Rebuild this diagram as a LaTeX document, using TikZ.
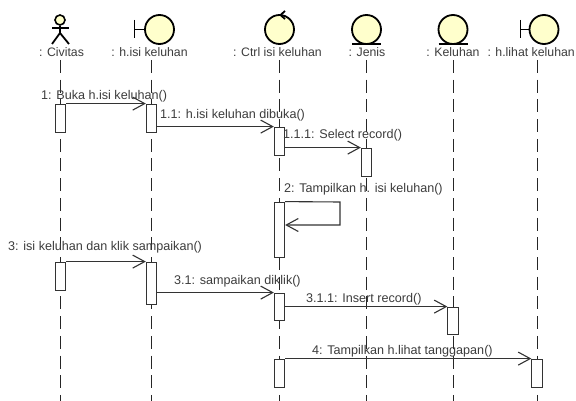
\documentclass[tikz,border=0pt]{standalone}
\usepackage{fontspec}
\setmainfont{Liberation Sans}
\usetikzlibrary{arrows.meta,positioning,calc}
\definecolor{iconfill}{RGB}{255,255,204}
\definecolor{txtgray}{RGB}{60,60,60}

\begin{document}
\begin{tikzpicture}[x=1pt,y=-1pt,>={Straight Barb[length=12pt,width=13pt]},
 obj/.style={circle,draw=black,line width=1.8pt,fill=iconfill,minimum size=29pt,inner sep=0pt},
 lbl/.style={text=txtgray,font=\fontsize{12.3}{14}\selectfont,inner sep=0pt},
 msgl/.style={lbl,font=\fontsize{12.6}{14}\selectfont,anchor=west},
 act/.style={draw=black!80,fill=white,line width=0.8pt,minimum width=10.5pt,inner sep=0pt},
 life/.style={black!85,line width=0.9pt,dash pattern=on 13pt off 6.7pt},
 a/.style={->,black!80,line width=1.1pt},
 ic/.style={line width=1.8pt}]
\useasboundingbox (0,0) rectangle (576,401);
% icons
\node[circle,draw=black,line width=1.6pt,fill=iconfill,minimum size=10pt,inner sep=0pt] (civ) at (60,20) {};
\coordinate (civb) at (60,33);
\draw[ic] (civ)--(civb); \draw[ic] (52,28)--(69,28);
\draw[ic] (52,44)--(civb)--(69,44);
\node[obj] (his) at (159.5,29.5) {};
\draw[ic] (134.5,20)--(134.5,38); \draw[ic] (134.5,29.5)--(his);
\node[obj] (ctrl) at (279.5,29.5) {};
\draw[ic] (285,11)--(280.5,15)--(285,19);
\node[obj] (jen) at (366.5,29.5) {};
\draw[ic] (352,44)--(381,44);
\node[obj] (kel) at (453,29.5) {};
\draw[ic] (438.5,44)--(467.5,44);
\node[obj] (hli) at (544,29.5) {};
\draw[ic] (520.5,20)--(520.5,38); \draw[ic] (520.5,29.5)--(hli);
% names
\node[lbl] (lciv) at (61.5,52) {: Civitas};
\node[lbl] (lhis) at (149.5,52) {: h.isi keluhan};
\node[lbl] (lctrl) at (277.5,52) {: Ctrl isi keluhan};
\node[lbl] (ljen) at (367,52) {: Jenis};
\node[lbl] (lkel) at (453,52) {: Keluhan};
\node[lbl,anchor=east] (lhli) at (575,52) {: h.lihat keluhan};
% lifelines
\coordinate (e1) at (60,401); \coordinate (e2) at (151,401); \coordinate (e3) at (279,401);
\coordinate (e4) at (366,401); \coordinate (e5) at (453,401); \coordinate (e6) at (537,401);
\coordinate (s1) at (60,60); \coordinate (s2) at (151,60); \coordinate (s3) at (279,60);
\coordinate (s4) at (366,60); \coordinate (s5) at (453,60); \coordinate (s6) at (537,60);
\draw[life] (s1)--(e1); \draw[life] (s2)--(e2); \draw[life] (s3)--(e3);
\draw[life] (s4)--(e4); \draw[life] (s5)--(e5); \draw[life] (s6)--(e6);
% activations
\node[act,minimum height=28pt] (c1) at (60.5,118) {};
\node[act,minimum height=28pt] (h1) at (151.5,118) {};
\node[act,minimum height=28pt] (k1) at (279.5,141) {};
\node[act,minimum height=28pt] (j1) at (366.5,162) {};
\node[act,minimum height=55pt] (k2) at (279.5,229.5) {};
\node[act,minimum height=28pt] (c2) at (60.5,276) {};
\node[act,minimum height=42pt] (h2) at (151.5,283) {};
\node[act,minimum height=27pt] (k3) at (279.5,306.5) {};
\node[act,minimum height=27pt] (e2a) at (453,320.5) {};
\node[act,minimum height=28pt] (k4) at (279.5,373) {};
\node[act,minimum height=28pt] (l1) at (537,373) {};
% messages
\draw[a] (c1.north east)--(h1.north west);
\draw[a] (h1.east |- k1.north)--(k1.north west);
\draw[a] (k1.east |- j1.north)--(j1.north west);
\coordinate (sa) at (340,202); \coordinate (sb) at (340,225);
\draw[a] (k2.north east)--(sa)--(sb)--(k2.east |- sb);
\draw[a] (c2.north east)--(h2.north west);
\draw[a] (h2.east |- k3.north)--(k3.north west);
\draw[a] (k3.east |- e2a.north)--(e2a.north west);
\draw[a] (k4.north east)--(l1.north west);
% message labels
\node[msgl] (m1) at (41,96) {1: Buka h.isi keluhan()};
\node[msgl] (m2) at (160,115) {1.1: h.isi keluhan dibuka()};
\node[msgl] (m3) at (283,135) {1.1.1: Select record()};
\node[msgl] (m4) at (284,189) {2: Tampilkan h. isi keluhan()};
\node[msgl] (m5) at (8,247) {3: isi keluhan dan klik sampaikan()};
\node[msgl] (m6) at (174,281) {3.1: sampaikan diklik()};
\node[msgl] (m7) at (306,299) {3.1.1: Insert record()};
\node[msgl] (m8) at (312,351) {4: Tampilkan h.lihat tanggapan()};
\end{tikzpicture}
\end{document}
